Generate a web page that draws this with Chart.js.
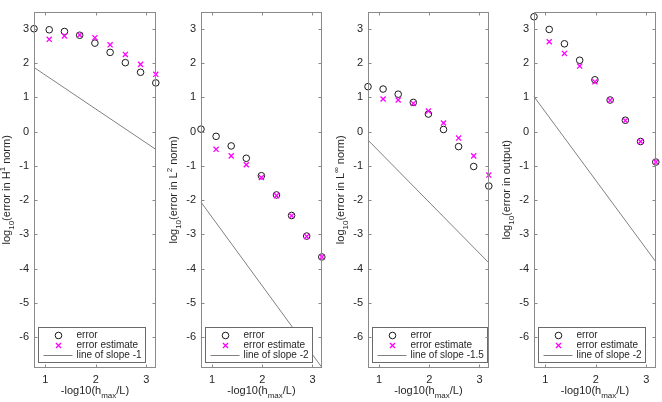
<!DOCTYPE html>
<html>
<head>
<meta charset="utf-8">
<script src="https://cdn.jsdelivr.net/npm/chart.js@4.4.1/dist/chart.umd.min.js"></script>
<style>
html,body{margin:0;padding:0;background:#fff;}
#wrap{position:relative;width:662px;height:402px;overflow:hidden;background:#fff;}
.p{position:absolute;top:0;height:402px;}
</style>
</head>
<body>
<div id="wrap">
  <div class="p" style="left:0px;width:162px"><canvas id="c0"></canvas></div>
  <div class="p" style="left:167px;width:161px"><canvas id="c1"></canvas></div>
  <div class="p" style="left:334px;width:161px"><canvas id="c2"></canvas></div>
  <div class="p" style="left:500px;width:162px"><canvas id="c3"></canvas></div>
</div>
<script>
// ---- data ----
const xVals   = [0.778, 1.079, 1.380, 1.681, 1.982, 2.283, 2.584, 2.885, 3.186];
const xTicks  = [1, 2, 3];
const yTicks  = [-6, -5, -4, -3, -2, -1, 0, 1, 2, 3];
const slopeX  = [0.778, 3.186];

const errH1   = [3.00, 2.97, 2.92, 2.81, 2.58, 2.31, 2.01, 1.73, 1.42];
const estH1   = [null, 2.69, 2.79, 2.82, 2.74, 2.53, 2.25, 1.96, 1.67];
const lineH1  = [1.87, -0.52];

const errL2   = [0.07, -0.14, -0.42, -0.78, -1.29, -1.85, -2.45, -3.05, -3.66];
const estL2   = [null, -0.52, -0.71, -0.97, -1.34, -1.87, -2.46, -3.06, -3.66];
const lineL2  = [-2.06, -6.88];

const errLinf = [1.31, 1.24, 1.09, 0.85, 0.51, 0.06, -0.44, -1.02, -1.59];
const estLinf = [null, 0.95, 0.92, 0.82, 0.60, 0.25, -0.19, -0.71, -1.27];
const lineLinf= [-0.25, -3.83];

const errOut  = [3.35, 2.98, 2.56, 2.08, 1.51, 0.92, 0.33, -0.29, -0.89];
const estOut  = [null, 2.62, 2.28, 1.91, 1.45, 0.91, 0.32, -0.29, -0.89];
const lineOut = [1.02, -3.80];

const seriesLabels = ['error', 'error estimate'];
const slopeLabels  = ['line of slope -1', 'line of slope -2', 'line of slope -1.5', 'line of slope -2'];
const xTitleParts  = [['-log10(h','n'],['max','sub'],['/L)','n']];
const yTitleParts  = [
  [['log','n'],['10','sub'],['(error in H','n'],['1','sup'],[' norm)','n']],
  [['log','n'],['10','sub'],['(error in L','n'],['2','sup'],[' norm)','n']],
  [['log','n'],['10','sub'],['(error in L','n'],['\u221E','sup'],[' norm)','n']],
  [['log','n'],['10','sub'],['(error in output)','n']]
];

// ---- style ----
const FONT = '"Liberation Sans", Arial, Helvetica, sans-serif';
const TXT = '#262626';
const AXC = '#8a8a8a';
const CIRC = '#1a1a1a';
const MAG = '#ff00ff';
const LINEC = '#808080';

Chart.defaults.font.family = FONT;
Chart.defaults.font.size = 11;
Chart.defaults.color = TXT;

function drawRich(ctx, parts, cx, cy, size, rot) {
  ctx.save();
  ctx.translate(cx, cy);
  if (rot) ctx.rotate(rot);
  const small = Math.round(size * 0.75);
  let total = 0;
  const widths = parts.map(([t, k]) => {
    ctx.font = (k === 'n' ? size : small) + 'px ' + FONT;
    const w = ctx.measureText(t).width; total += w; return w;
  });
  let x = -total / 2;
  const b = size * 0.35;
  ctx.textAlign = 'left';
  ctx.textBaseline = 'alphabetic';
  ctx.fillStyle = TXT;
  parts.forEach(([t, k], i) => {
    ctx.font = (k === 'n' ? size : small) + 'px ' + FONT;
    const dy = k === 'sub' ? size * 0.4 : (k === 'sup' ? -size * 0.45 : 0);
    ctx.fillText(t, x, b + dy);
    x += widths[i];
  });
  ctx.restore();
}

const matlabPlugin = {
  id: 'matlabAxes',
  afterDatasetsDraw(chart, args, opts) {
    const ctx = chart.ctx;
    const a = chart.chartArea;
    const xs = chart.scales.x, ys = chart.scales.y;
    ctx.save();
    // legend box
    const ds = chart.data.datasets;
    ctx.font = '10px ' + FONT;
    let tw = 0;
    ds.forEach(d => { tw = Math.max(tw, ctx.measureText(d.label).width); });
    const lx = Math.round(a.left + 4) + 0.5;
    const lw = Math.round(38 + tw + 4);
    const lh = 35;
    const ly = Math.round(a.bottom - 41) + 0.5;
    ctx.fillStyle = '#fff';
    ctx.fillRect(lx, ly, lw, lh);
    ctx.strokeStyle = '#6a6a6a';
    ctx.lineWidth = 1;
    ctx.strokeRect(lx, ly, lw, lh);
    ds.forEach((d, i) => {
      const ry = ly + 8 + i * 10;
      const mx = lx + 20;
      if (d.showLine) {
        ctx.strokeStyle = d.borderColor; ctx.lineWidth = 1;
        ctx.beginPath(); ctx.moveTo(lx + 5, ry); ctx.lineTo(lx + 34, ry); ctx.stroke();
      } else {
        ctx.strokeStyle = d.borderColor;
        ctx.lineWidth = d.borderWidth;
        ctx.beginPath();
        if (d.pointStyle === 'circle') { ctx.arc(mx, ry, d.pointRadius, 0, Math.PI * 2); }
        else { const o = d.pointRadius * Math.SQRT1_2; ctx.moveTo(mx-o, ry-o); ctx.lineTo(mx+o, ry+o); ctx.moveTo(mx+o, ry-o); ctx.lineTo(mx-o, ry+o); }
        ctx.stroke();
      }
      ctx.fillStyle = TXT;
      ctx.font = '10px ' + FONT;
      ctx.textAlign = 'left'; ctx.textBaseline = 'middle';
      ctx.fillText(d.label, lx + 38, ry);
    });
    // axes box
    ctx.strokeStyle = AXC; ctx.lineWidth = 1;
    const L = Math.round(a.left) + 0.5, R = Math.round(a.right) - 0.5;
    const T = Math.round(a.top) + 0.5, B = Math.round(a.bottom) - 0.5;
    ctx.strokeRect(L, T, R - L, B - T);
    // inward ticks
    const tl = 3;
    ctx.beginPath();
    xs.ticks.forEach(t => {
      const px = Math.round(xs.getPixelForValue(t.value)) + 0.5;
      ctx.moveTo(px, B); ctx.lineTo(px, B - tl);
      ctx.moveTo(px, T); ctx.lineTo(px, T + tl);
    });
    ys.ticks.forEach(t => {
      const py = Math.round(ys.getPixelForValue(t.value)) + 0.5;
      ctx.moveTo(L, py); ctx.lineTo(L + tl, py);
      ctx.moveTo(R, py); ctx.lineTo(R - tl, py);
    });
    ctx.stroke();
    // titles
    drawRich(ctx, opts.yTitle, a.left - 28, (a.top + a.bottom) / 2, 11, -Math.PI / 2);
    drawRich(ctx, xTitleParts, (a.left + a.right) / 2, 390, 11, 0);
    ctx.restore();
  }
};

function pts(arr) {
  const out = [];
  xVals.forEach((x, i) => { if (arr[i] !== null) out.push({ x: x, y: arr[i] }); });
  return out;
}

function makeChart(id, err, est, line, idx) {
  new Chart(document.getElementById(id), {
    type: 'scatter',
    data: {
      datasets: [
        { label: seriesLabels[0], data: pts(err), pointStyle: 'circle', pointRadius: 3.3,
          pointBorderColor: CIRC, pointBackgroundColor: 'rgba(0,0,0,0)', borderColor: CIRC,
          backgroundColor: 'rgba(0,0,0,0)', borderWidth: 1, pointBorderWidth: 1, order: 2, clip: false },
        { label: seriesLabels[1], data: pts(est), pointStyle: 'crossRot', pointRadius: 3.6,
          pointBorderColor: MAG, pointBackgroundColor: MAG, borderColor: MAG,
          backgroundColor: MAG, borderWidth: 1.3, pointBorderWidth: 1.3, order: 1, clip: false },
        { label: slopeLabels[idx], data: slopeX.map((x, i) => ({ x: x, y: line[i] })), showLine: true,
          pointRadius: 0, borderColor: LINEC, borderWidth: 1, order: 3, clip: false }
      ]
    },
    options: {
      responsive: true, maintainAspectRatio: false, animation: false,
      events: [],
      layout: { padding: { left: 0, right: 6, top: 10, bottom: 0 } },
      plugins: { legend: { display: false }, tooltip: { enabled: false }, matlabAxes: { yTitle: yTitleParts[idx] } },
      scales: {
        x: {
          type: 'linear', min: 0.778, max: 3.19,
          grid: { display: false, drawTicks: false }, border: { display: false },
          ticks: { padding: 5, color: TXT, font: { size: 11 } },
          afterBuildTicks: s => { s.ticks = xTicks.map(v => ({ value: v })); },
          afterFit: s => { s.height = 34; }
        },
        y: {
          type: 'linear', min: -6.9, max: 3.5,
          grid: { display: false, drawTicks: false }, border: { display: false },
          ticks: { padding: 5, color: TXT, font: { size: 11 } },
          afterBuildTicks: s => { s.ticks = yTicks.map(v => ({ value: v })); },
          afterFit: s => { s.width = 34; }
        }
      }
    },
    plugins: [matlabPlugin]
  });
}

makeChart('c0', errH1, estH1, lineH1, 0);
makeChart('c1', errL2, estL2, lineL2, 1);
makeChart('c2', errLinf, estLinf, lineLinf, 2);
makeChart('c3', errOut, estOut, lineOut, 3);
</script>
</body>
</html>
